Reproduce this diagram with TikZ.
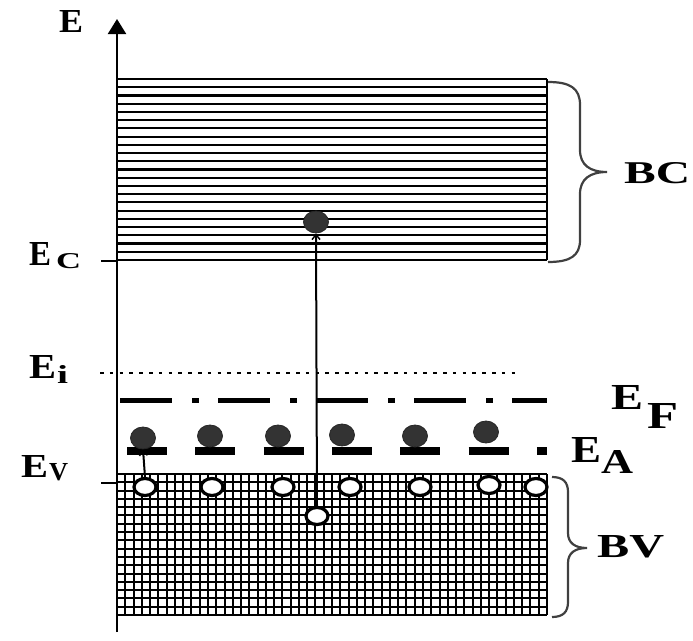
\documentclass[tikz,border=0pt]{standalone}
\usepackage{fontspec}
\usepackage{graphicx}
\setmainfont{Liberation Serif}
\usetikzlibrary{arrows.meta,shapes.geometric}
\newcommand\fitlbl[3]{\resizebox{#1}{#2}{\bfseries #3}}
\begin{document}
\begin{tikzpicture}[x=1pt,y=-1pt,
  lbl/.style={anchor=base west, inner sep=0pt, font=\bfseries},
  electron/.style={ellipse, fill=black!80, draw=black!85, line width=0.8pt, minimum width=25pt, minimum height=22pt, inner sep=0pt},
  hole/.style={ellipse, draw=black, fill=white, line width=3.2pt, minimum width=22pt, minimum height=17pt, inner sep=0pt},
  bandline/.style={line width=2.1pt},
  gridline/.style={line width=2pt},
  axisline/.style={line width=2.2pt},
  jump/.style={line width=2pt, -{Straight Barb[length=5pt,width=8pt,line width=1.5pt]}},
  bracestyle/.style={line width=2.2pt, draw=black!75},
  levelF/.style={line width=5pt, dash pattern=on 52pt off 20pt on 7pt off 19pt},
  levelA/.style={line width=7.5pt, dash pattern=on 40pt off 28.3pt},
  levelI/.style={line width=2.6pt, dash pattern=on 3.5pt off 6.3pt}
]
\useasboundingbox (0,0) rectangle (693,640);
% conduction band
\foreach \i in {0,...,22}{
  \draw[bandline] (117,{79+\i*8.22727}) -- (547,{79+\i*8.22727});
}
\draw[bandline] (547,79) -- (547,260);
% valence band grid
\foreach \j in {0,...,17}{
  \draw[gridline] (117,{474+\j*8.29412}) -- (547,{474+\j*8.29412});
}
\foreach \i in {0,...,52}{
  \draw[gridline] ({117+\i*8.26923},474) -- ({117+\i*8.26923},615);
}
% axis
\coordinate (axbot) at (117,632);
\coordinate (axtop) at (117,19);
\draw[axisline,-{Triangle[width=18pt,length=15pt]}] (axbot) -- (axtop);
\node[lbl] (E) at (59,32) {\fitlbl{24pt}{22pt}{E}};
% ticks
\coordinate (tc) at (101,261);
\coordinate (tv) at (101,483);
\draw[axisline] (tc) -- (tc -| axbot);
\draw[axisline] (tv) -- (tv -| axbot);
% levels
\coordinate (Ei0) at (100,373); \coordinate (Ei1) at (517,373);
\draw[levelI] (Ei0) -- (Ei1);
\coordinate (Ef0) at (120,400); \coordinate (Ef1) at (547,400);
\draw[levelF] (Ef0) -- (Ef1);
\coordinate (Ea0) at (127,451); \coordinate (Ea1) at (547,451);
\draw[levelA] (Ea0) -- (Ea1);
% labels
\node[lbl] (EC) at (29,265) {\fitlbl{22pt}{23pt}{E}\kern5pt\raisebox{-3pt}{\fitlbl{25pt}{15pt}{C}}};
\node[lbl] (Ei) at (29,378) {\fitlbl{27pt}{23pt}{E}\kern1pt\raisebox{-5pt}{\fitlbl{11pt}{18pt}{i}}};
\node[lbl] (EV) at (21,477) {\fitlbl{27pt}{22pt}{E}\kern1pt\raisebox{-3pt}{\fitlbl{19pt}{17pt}{V}}};
\node[lbl] (EF) at (611,409) {\fitlbl{32pt}{24pt}{E}\kern4pt\raisebox{-19pt}{\fitlbl{31pt}{25pt}{F}}};
\node[lbl] (EA) at (571,462) {\fitlbl{30pt}{25pt}{E}\kern0pt\raisebox{-11pt}{\fitlbl{32pt}{23pt}{A}}};
\node[lbl] (BC) at (624,183) {\fitlbl{66pt}{21pt}{BC}};
\node[lbl] (BV) at (597,557) {\fitlbl{67pt}{22pt}{BV}};
% braces
\draw[bracestyle] (548,82) .. controls (570,82) and (580,88) .. (580,105) -- (580,150)
  .. controls (580,165) and (590,172) .. (607,172)
  .. controls (590,172) and (580,179) .. (580,194) -- (580,240)
  .. controls (580,256) and (570,262) .. (548,262);
\draw[bracestyle] (552,477) .. controls (563,477) and (568,482) .. (568,492) -- (568,533)
  .. controls (568,543) and (575,548) .. (587,548)
  .. controls (575,548) and (568,553) .. (568,563) -- (568,602)
  .. controls (568,612) and (563,617) .. (552,617);
% holes
\node[hole] (h1) at (145,487) {};
\node[hole] (h2) at (212,487) {};
\node[hole] (h3) at (283,487) {};
\node[hole] (h4) at (350,487) {};
\node[hole] (h5) at (420,487) {};
\node[hole] (h6) at (489,485) {};
\node[hole] (h7) at (536,487) {};
\node[hole] (h8) at (317,516) {};
% electrons
\node[electron] (e1) at (143,438) {};
\node[electron] (e2) at (210,436) {};
\node[electron] (e3) at (278,436) {};
\node[electron] (e4) at (342,435) {};
\node[electron] (e5) at (415,436) {};
\node[electron] (e6) at (486,432) {};
\node[electron] (ec) at (316,222) {};
% transitions
\draw[jump] (h1.north) -- (e1.south);
\draw[jump] (h8.north) -- (ec.south);
\end{tikzpicture}
\end{document}
